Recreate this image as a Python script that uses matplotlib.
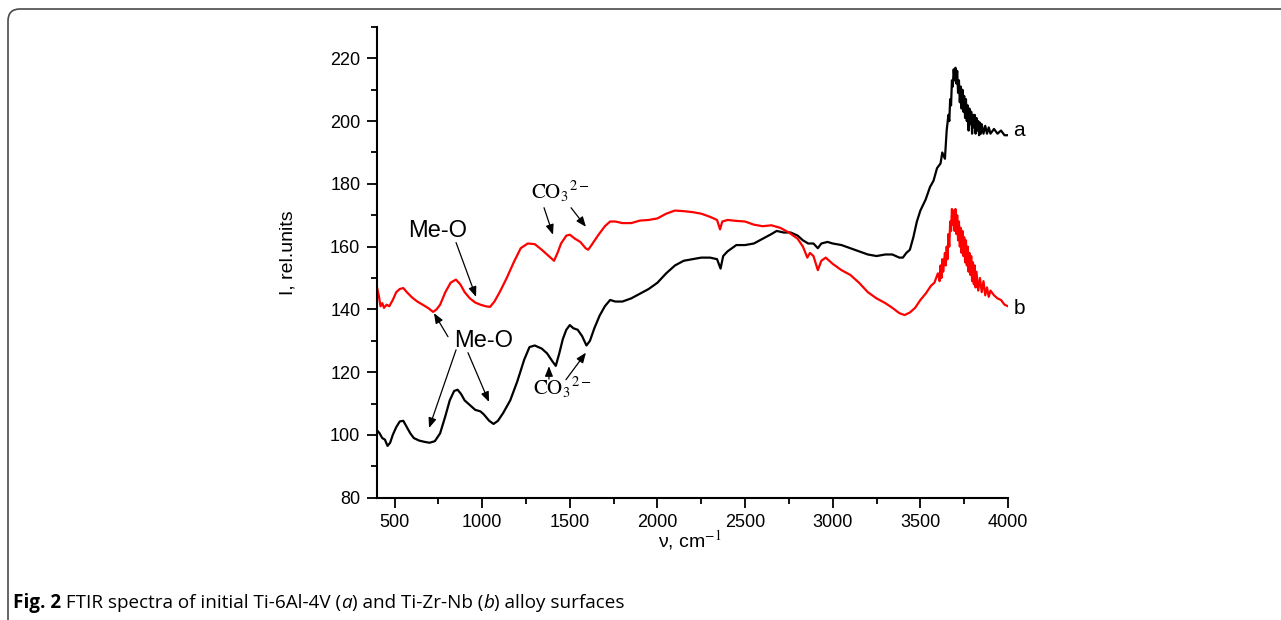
import matplotlib
matplotlib.use("Agg")
import matplotlib.pyplot as plt
from matplotlib.patches import FancyBboxPatch
from matplotlib.ticker import MultipleLocator

plt.rcParams['font.family'] = ['Liberation Sans', 'DejaVu Sans']
plt.rcParams['mathtext.fontset'] = 'stix'

# spectrum a (Ti-6Al-4V), black
wn_a = [400, 415, 430, 445, 460, 475, 490, 510, 530, 550, 570, 590, 610, 640, 670, 700,
        730, 760, 790, 815, 840, 860, 880, 900, 930, 960, 990, 1010, 1040, 1065, 1090,
        1120, 1160, 1200, 1240, 1270, 1300, 1340, 1370, 1400, 1420, 1440, 1460, 1480,
        1500, 1520, 1545, 1570, 1595, 1615, 1640, 1670, 1700, 1730, 1760, 1800, 1850,
        1900, 1950, 2000, 2050, 2100, 2150, 2200, 2250, 2300, 2340, 2360, 2375, 2400,
        2450, 2500, 2550, 2600, 2650, 2680, 2720, 2760, 2800, 2830, 2860, 2890, 2915,
        2935, 2970, 3000, 3050, 3100, 3150, 3200, 3250, 3300, 3340, 3380, 3400, 3420,
        3440, 3460, 3480, 3500, 3530, 3555, 3575, 3595, 3615, 3625, 3640,
        3650, 3660, 3665, 3670, 3675, 3680, 3685, 3690, 3695, 3700, 3705, 3710, 3715,
        3720, 3725, 3730, 3735, 3740, 3745, 3750, 3755, 3760, 3765, 3770, 3775, 3780,
        3785, 3790, 3795, 3800, 3805, 3810, 3815, 3820, 3825, 3830, 3835, 3840, 3845,
        3850, 3860, 3870, 3880, 3890, 3900, 3920, 3940, 3960, 3980, 4000]
int_a = [101.5, 100.5, 99, 98.5, 96.5, 97.5, 100, 102.5, 104.3, 104.5, 102.5, 100.5, 99,
         98.2, 97.8, 97.5, 98, 100.5, 106, 111, 114, 114.4, 113, 111, 109.5, 108, 107.5,
         106.5, 104.5, 103.5, 104.5, 107, 111, 117, 124, 128, 128.5, 127.5, 126, 123.5,
         122, 126, 130.5, 133.5, 135, 134, 133.5, 131.5, 128.5, 130, 134, 138, 141, 143,
         142.5, 142.5, 143.5, 145, 146.5, 148.5, 151.5, 154, 155.5, 156, 156.5, 156.5,
         156, 153, 157, 158.5, 160.5, 160.5, 161, 162.5, 164, 165, 164.5, 164.5, 163.5,
         162, 161, 161, 159.5, 161, 161.5, 161, 160.5, 159.5, 158.5, 157.5, 157, 157.5,
         157.5, 156.5, 156.5, 158, 159, 163, 168, 171.5, 175, 179, 181, 185, 186.5, 190,
         188,
         197, 202, 200, 207, 205, 213, 211, 216.5, 213, 217, 212, 216, 209,
         213, 206, 211, 204, 210, 203, 208, 201, 207, 200, 205, 197, 204,
         199, 203, 196, 202, 198, 202, 196, 201, 197, 200, 195.5, 199.5, 196,
         199, 196, 198.5, 196, 198, 196, 197.5, 196, 197, 195.5, 195.5]

# spectrum b (Ti-Zr-Nb), red
wn_b = [400, 410, 420, 430, 440, 455, 470, 490, 510, 530, 550, 570, 600, 630, 660, 690,
        720, 740, 760, 790, 820, 850, 875, 900, 930, 960, 990, 1020, 1045, 1070, 1100,
        1140, 1180, 1220, 1260, 1300, 1340, 1380, 1410, 1430, 1450, 1480, 1500, 1530,
        1560, 1590, 1605, 1630, 1660, 1700, 1730, 1760, 1800, 1850, 1900, 1950, 2000,
        2050, 2100, 2150, 2200, 2250, 2300, 2340, 2357, 2370, 2400, 2450, 2500, 2550,
        2600, 2650, 2700, 2750, 2800, 2830, 2855, 2870, 2890, 2915, 2935, 2960, 3000,
        3050, 3100, 3150, 3200, 3250, 3300, 3340, 3380, 3410, 3440, 3470, 3500, 3530,
        3560, 3580,
        3600, 3610, 3615, 3620, 3625, 3630, 3640, 3645, 3650, 3655, 3660, 3665, 3670,
        3675, 3680, 3685, 3690, 3695, 3700, 3705, 3710, 3715, 3720, 3725, 3730, 3735,
        3740, 3745, 3750, 3755, 3760, 3765, 3770, 3775, 3780, 3785, 3790, 3795, 3800,
        3805, 3810, 3815, 3820, 3830, 3840, 3850, 3860, 3870, 3880, 3890, 3900, 3920,
        3940, 3960, 3980, 4000]
int_b = [147, 144.5, 141, 142, 140.5, 141.5, 141, 143, 145.5, 146.5, 146.8, 145.5, 143.8,
         142.5, 141.5, 140.5, 139.2, 140, 141.5, 145.5, 148.5, 149.5, 148, 145.5, 143.5,
         142.2, 141.5, 141, 140.8, 142.5, 145.5, 150, 155, 159.5, 161, 160.8, 159, 157,
         155.5, 158, 161, 163.5, 163.8, 162.5, 161.5, 159.5, 159, 161, 163.5, 166.5, 168,
         168, 167.5, 167.5, 168.3, 168.5, 169, 170.5, 171.5, 171.3, 171, 170.5, 169.5,
         168.5, 165.5, 168, 168.5, 168.2, 168, 167, 166.5, 166.8, 166, 164.5, 162.5, 160,
         156.5, 158, 157, 152.5, 155.5, 156.5, 154.5, 152.5, 151, 148.5, 145.5, 143.5, 142,
         140.5, 138.8, 138.2, 139, 140.5, 143, 145, 147.5, 148.5,
         151.5, 149, 154, 150, 156, 152, 158, 154, 160, 156, 164, 160, 168,
         165, 172, 167, 171.5, 165, 172, 164, 170, 162, 168, 160, 166, 158,
         165, 157, 163, 155, 162, 154, 160, 152, 158, 151, 157, 149, 155,
         148, 154, 147, 152, 146, 150, 145.5, 149, 144.5, 147, 144, 146, 144.5,
         143.5, 143, 141.5, 141]

fig = plt.figure(figsize=(12.81, 6.2), dpi=100)

# rounded frame around the figure panel
frame = FancyBboxPatch((0.08, -1.0), 14.0, 7.11, boxstyle='round,pad=0,rounding_size=0.12',
                       transform=fig.dpi_scale_trans, facecolor='none',
                       edgecolor='#4a4a4a', lw=1.2)
fig.add_artist(frame)

ax = fig.add_axes([0.2943, 0.1973, 0.4926, 0.7592])
ax.plot(wn_a, int_a, color='black', lw=1.6)
ax.plot(wn_b, int_b, color='red', lw=1.6)

ax.set_xlim(400, 4000)
ax.set_ylim(80, 230)
ax.spines[['top', 'right']].set_visible(False)
ax.spines[['left', 'bottom']].set_linewidth(1.5)
ax.xaxis.set_major_locator(MultipleLocator(500))
ax.xaxis.set_minor_locator(MultipleLocator(250))
ax.yaxis.set_major_locator(MultipleLocator(20))
ax.yaxis.set_minor_locator(MultipleLocator(10))
ax.tick_params(which='major', direction='out', length=7, width=1.3, labelsize=13, pad=5)
ax.tick_params(which='minor', direction='out', length=4, width=1.3)
ax.set_yticks([80, 100, 120, 140, 160, 180, 200, 220])

ax.set_xlabel('ν, cm$^{-1}$', fontsize=14)
ax.xaxis.set_label_coords(0.496, -0.065)
ax.set_ylabel('I, rel.units', fontsize=14)
ax.yaxis.set_label_coords(-0.128, 0.52)

ax.text(4030, 197, 'a', fontsize=15, va='center', ha='left')
ax.text(4030, 140.3, 'b', fontsize=15, va='center', ha='left')

arr = dict(arrowstyle='-|>,head_length=0.5,head_width=0.2', color='black', lw=0.9,
           shrinkA=0, shrinkB=0, mutation_scale=12)

ax.text(748, 165.1, 'Me-O', fontsize=17, ha='center', va='center')
ax.annotate('', xy=(965, 144), xytext=(851, 161.3), arrowprops=arr)

ax.text(1010, 130, 'Me-O', fontsize=17, ha='center', va='center')
ax.annotate('', xy=(725, 138.8), xytext=(805, 131.3), arrowprops=arr)
ax.annotate('', xy=(697, 102.2), xytext=(851, 127.1), arrowprops=arr)
ax.annotate('', xy=(1039, 110.5), xytext=(919, 126.2), arrowprops=arr)

co3 = r'$\mathrm{CO_3{}^{2-}}$'
ax.text(1447, 177.5, co3, fontsize=15, ha='center', va='center')
ax.annotate('', xy=(1404, 163.8), xytext=(1353, 172.4), arrowprops=arr)
ax.annotate('', xy=(1592, 166.3), xytext=(1507, 172.4), arrowprops=arr)

ax.text(1455, 115, co3, fontsize=15, ha='center', va='center')
ax.annotate('', xy=(1381, 121.9), xytext=(1381, 117.8), arrowprops=arr)
ax.annotate('', xy=(1592, 126.2), xytext=(1478, 117.6), arrowprops=arr)

# caption built piece by piece
renderer = fig.canvas.get_renderer()
pieces = [('Fig. 2', 'bold', 'normal'),
          (' FTIR spectra of initial Ti-6Al-4V (', 'normal', 'normal'),
          ('a', 'normal', 'italic'),
          (') and Ti-Zr-Nb (', 'normal', 'normal'),
          ('b', 'normal', 'italic'),
          (') alloy surfaces', 'normal', 'normal')]
x = 13 / 1281
for s, w, st in pieces:
    t = fig.text(x, 1 - 608 / 620, s, fontsize=13.6, family='Open Sans', weight=w,
                 style=st, va='baseline', ha='left')
    bb = t.get_window_extent(renderer)
    x = bb.x1 / fig.bbox.width

fig.savefig('out.png', dpi=100)
